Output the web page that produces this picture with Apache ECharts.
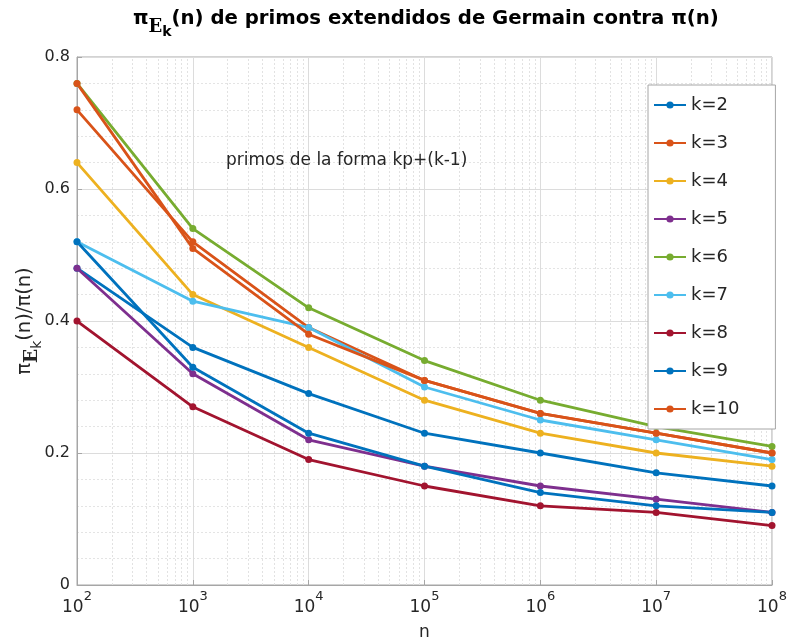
<!DOCTYPE html>
<html>
<head>
<meta charset="utf-8">
<script src="https://cdn.jsdelivr.net/npm/echarts@6/dist/echarts.min.js"></script>
<style>html,body{margin:0;padding:0;background:#fff;}#c{width:790px;height:639px;}</style>
</head>
<body>
<div id="c"></div>
<script>
var nValues = [1e2, 1e3, 1e4, 1e5, 1e6, 1e7, 1e8];
var seriesNames = ['k=2','k=3','k=4','k=5','k=6','k=7','k=8','k=9','k=10'];
var k2  = [0.48, 0.36, 0.29, 0.23, 0.20, 0.17, 0.15];
var k3  = [0.72, 0.52, 0.39, 0.31, 0.26, 0.23, 0.20];
var k4  = [0.64, 0.44, 0.36, 0.28, 0.23, 0.20, 0.18];
var k5  = [0.48, 0.32, 0.22, 0.18, 0.15, 0.13, 0.11];
var k6  = [0.76, 0.54, 0.42, 0.34, 0.28, 0.24, 0.21];
var k7  = [0.52, 0.43, 0.39, 0.30, 0.25, 0.22, 0.19];
var k8  = [0.40, 0.27, 0.19, 0.15, 0.12, 0.11, 0.09];
var k9  = [0.52, 0.33, 0.23, 0.18, 0.14, 0.12, 0.11];
var k10 = [0.76, 0.51, 0.38, 0.31, 0.26, 0.23, 0.20];
var yTicks = [0, 0.2, 0.4, 0.6, 0.8];

var allData = [k2,k3,k4,k5,k6,k7,k8,k9,k10];
var colors = ['#0072BD','#D95319','#EDB120','#7E2F8E','#77AC30','#4DBEEE','#A2142F','#0072BD','#D95319'];
var FONT = 'DejaVu Sans';

// minor log gridlines (2..9 x 10^k)
var minorLines = [];
for (var e = 2; e < 8; e++) {
  for (var m = 2; m <= 9; m++) minorLines.push({xAxis: m * Math.pow(10, e)});
}

var series = allData.map(function (arr, i) {
  return {
    name: seriesNames[i],
    type: 'line',
    data: arr.map(function (v, j) { return [nValues[j], v]; }),
    symbol: 'circle',
    symbolSize: 7,
    lineStyle: {width: 2.8, color: colors[i]},
    itemStyle: {color: colors[i]},
    z: 3
  };
});
series.unshift({
  name: 'grid',
  type: 'line',
  data: [],
  silent: true,
  z: 0,
  markLine: {
    silent: true,
    z: 0,
    symbol: 'none',
    label: {show: false},
    animation: false,
    lineStyle: {color: '#e2e2e2', type: [2, 2], width: 1},
    data: minorLines
  }
});

var titleRich = {
  p: {fontSize: 19.7, fontWeight: 'bold', fontFamily: FONT, color: '#000', lineHeight: 24, verticalAlign: 'top'},
  e: {fontSize: 18, fontWeight: 'bold', fontFamily: 'DejaVu Serif', color: '#000', lineHeight: 24, verticalAlign: 'top', padding: [9, 0, 0, 0]},
  k: {fontSize: 14, fontWeight: 'bold', fontFamily: FONT, color: '#000', lineHeight: 24, verticalAlign: 'top', padding: [16, 0, 0, 0]}
};
var yRich = {
  p: {fontSize: 19.5, fontFamily: FONT, color: '#262626', lineHeight: 23, verticalAlign: 'top'},
  e: {fontSize: 18.5, fontWeight: 'bold', fontFamily: 'DejaVu Serif', color: '#262626', lineHeight: 23, verticalAlign: 'top', padding: [8, 0, 0, 0]},
  k: {fontSize: 14, fontFamily: FONT, color: '#262626', lineHeight: 23, verticalAlign: 'top', padding: [15, 0, 0, 0]}
};

var chart = echarts.init(document.getElementById('c'), null, {renderer: 'canvas'});
chart.setOption({
  backgroundColor: '#fff',
  animation: false,
  title: {
    text: '{p|π}{e|E}{k|k}{p|(n) de primos extendidos de Germain contra π(n)}',
    left: 128, top: 4,
    textStyle: {rich: titleRich}
  },
  grid: {left: 77, right: 18, top: 57, bottom: 54, show: true, borderColor: '#a6a6a6', borderWidth: 1,
         backgroundColor: 'transparent', containLabel: false, outerBoundsMode: 'none'},
  legend: {
    data: seriesNames,
    orient: 'vertical',
    left: 648, top: 85,
    z: 20,
    itemWidth: 32, itemHeight: 9, itemGap: 20,
    padding: [11, 36, 11, 5],
    backgroundColor: '#fff',
    borderColor: '#a6a6a6', borderWidth: 1,
    textStyle: {fontFamily: FONT, fontSize: 18, color: '#262626'}
  },
  graphic: [{
    type: 'text', left: 226, top: 152, z: 30,
    style: {text: 'primos de la forma kp+(k-1)', font: '17px "DejaVu Sans"', fill: '#262626'}
  }],
  xAxis: {
    type: 'log', logBase: 10, min: 1e2, max: 1e8,
    name: 'n', nameLocation: 'middle', nameGap: 39,
    nameTextStyle: {fontFamily: FONT, fontSize: 17, color: '#262626'},
    axisLine: {lineStyle: {color: '#a6a6a6'}},
    axisTick: {inside: true, length: 5, lineStyle: {color: '#a6a6a6'}},
    splitLine: {show: true, lineStyle: {color: '#dcdcdc', width: 1}},
    axisLabel: {
      margin: 5,
      formatter: function (v) {
        var ex = Math.round(Math.log10(v));
        return '{b|10}{s|' + ex + '}';
      },
      rich: {
        b: {fontSize: 17, fontFamily: FONT, color: '#262626', lineHeight: 26, verticalAlign: 'bottom'},
        s: {fontSize: 13, fontFamily: FONT, color: '#262626', lineHeight: 26, verticalAlign: 'top'}
      }
    }
  },
  yAxis: {
    type: 'value', min: 0, max: 0.8, interval: 0.2,
    name: '{p|π}{e|E}{k|k}{p|(n)/π(n)}', nameLocation: 'middle', nameGap: 39, nameRotate: 90,
    nameMoveOverlap: false,
    nameTextStyle: {rich: yRich},
    axisLine: {show: true, lineStyle: {color: '#a6a6a6'}},
    axisTick: {show: true, inside: true, length: 5, lineStyle: {color: '#a6a6a6'}},
    axisLabel: {
      margin: 7, fontFamily: FONT, fontSize: 16, color: '#262626',
      formatter: function (v) { return yTicks.indexOf(Math.round(v * 10) / 10) >= 0 ? String(Math.round(v * 10) / 10) : ''; }
    },
    splitLine: {show: true, lineStyle: {color: '#dcdcdc', width: 1}},
    minorTick: {show: false, splitNumber: 5},
    minorSplitLine: {show: true, lineStyle: {color: '#e4e4e4', type: [2, 2], width: 1}}
  },
  series: series
});
</script>
</body>
</html>
